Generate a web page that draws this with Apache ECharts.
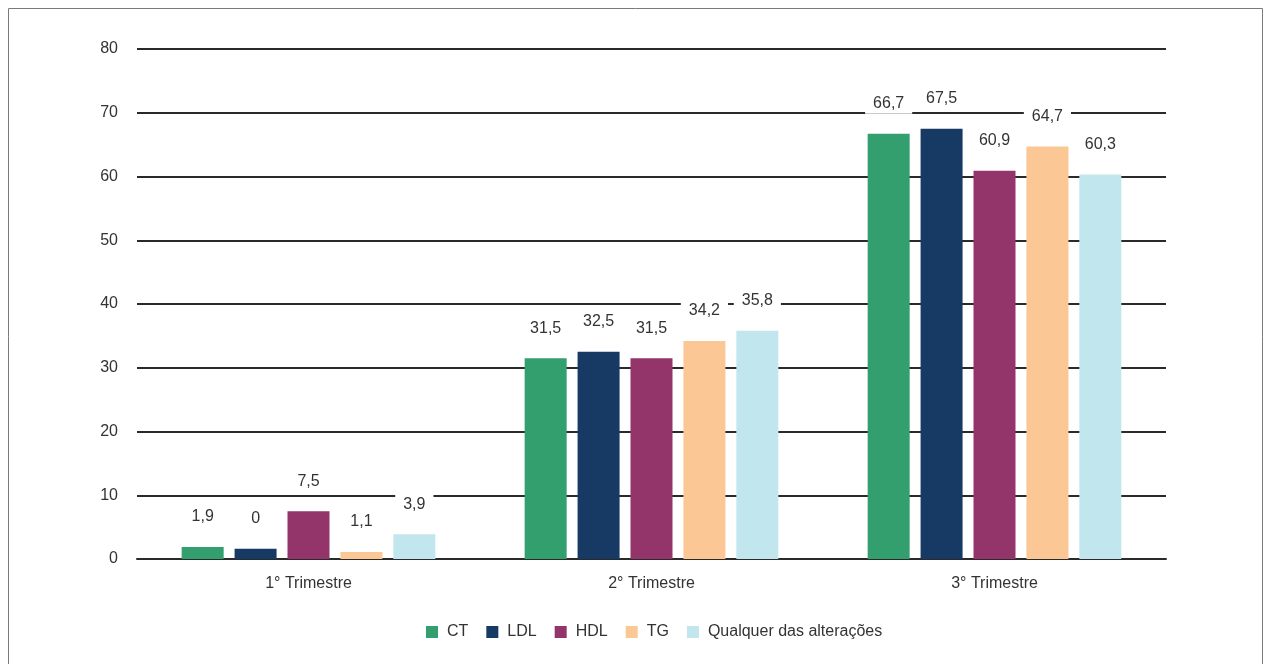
<!DOCTYPE html>
<html>
<head>
<meta charset="utf-8">
<script src="https://cdn.jsdelivr.net/npm/echarts@6/dist/echarts.min.js"></script>
<style>
html,body{margin:0;padding:0;background:#fff;}
#chart{width:1266px;height:664px;}
</style>
</head>
<body>
<div id="chart"></div>
<script>
const categories = ['1° Trimestre', '2° Trimestre', '3° Trimestre'];
const seriesNames = ['CT', 'LDL', 'HDL', 'TG', 'Qualquer das alterações'];
const ctValues = [1.9, 31.5, 66.7];
const ldlValues = [1.6, 32.5, 67.5];
const hdlValues = [7.5, 31.5, 60.9];
const tgValues = [1.1, 34.2, 64.7];
const qualquerValues = [3.9, 35.8, 60.3];
const ctLabels = ['1,9', '31,5', '66,7'];
const ldlLabels = ['0', '32,5', '67,5'];
const hdlLabels = ['7,5', '31,5', '60,9'];
const tgLabels = ['1,1', '34,2', '64,7'];
const qualquerLabels = ['3,9', '35,8', '60,3'];
const yTicks = [0, 10, 20, 30, 40, 50, 60, 70, 80];
const colors = ['#339e6e', '#173a65', '#93356a', '#fbc794', '#c2e6ee'];

const allValues = [ctValues, ldlValues, hdlValues, tgValues, qualquerValues];
const allLabels = [ctLabels, ldlLabels, hdlLabels, tgLabels, qualquerLabels];
const FONT = '"Liberation Sans", Arial, sans-serif';

const chart = echarts.init(document.getElementById('chart'), null, {renderer: 'canvas'});
chart.setOption({
  backgroundColor: '#fff',
  animation: false,
  textStyle: {fontFamily: FONT},
  graphic: [{
    type: 'rect', silent: true, z: 100,
    shape: {x: 8.5, y: 8.5, width: 1254, height: 700},
    style: {fill: 'none', stroke: '#7a7a7a', lineWidth: 1}
  }],
  grid: {left: 137, right: 100, top: 49, bottom: 105, containLabel: false},
  legend: {
    bottom: 19,
    left: 421,
    itemWidth: 12,
    itemHeight: 12,
    itemGap: 18,
    icon: 'rect',
    data: seriesNames,
    textStyle: {fontFamily: FONT, fontSize: 16, color: '#333', padding: [0, 0, 0, 4]}
  },
  xAxis: {
    type: 'category',
    data: categories,
    axisLine: {show: true, lineStyle: {color: '#2a2a2a', width: 2}},
    axisTick: {show: false},
    axisLabel: {fontFamily: FONT, fontSize: 16, color: '#333', margin: 17}
  },
  yAxis: {
    type: 'value',
    min: yTicks[0],
    max: yTicks[yTicks.length - 1],
    interval: 10,
    axisLine: {show: false},
    axisTick: {show: false},
    axisLabel: {fontFamily: FONT, fontSize: 16, color: '#333', margin: 19},
    splitLine: {lineStyle: {color: '#2a2a2a', width: 2}}
  },
  series: seriesNames.map((name, i) => ({
    name: name,
    type: 'bar',
    barWidth: 42,
    barGap: '26%',
    itemStyle: {color: colors[i]},
    data: allValues[i],
    label: {
      show: true,
      position: 'top',
      distance: 20,
      fontFamily: FONT,
      fontSize: 16,
      color: '#333',
      backgroundColor: '#fff',
      padding: [2, 8],
      formatter: (p) => allLabels[i][p.dataIndex]
    }
  }))
});
</script>
</body>
</html>
